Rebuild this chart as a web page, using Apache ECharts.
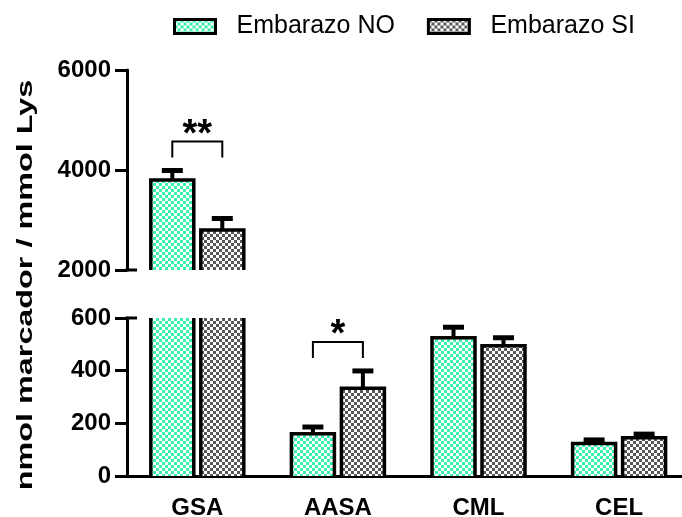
<!DOCTYPE html>
<html>
<head>
<meta charset="utf-8">
<script src="https://cdn.jsdelivr.net/npm/echarts@6/dist/echarts.min.js"></script>
<style>
  html, body { margin: 0; padding: 0; background: #fff; }
  #chart { width: 682px; height: 517px; }
</style>
</head>
<body>
<div id="chart"></div>
<script>
// Marker levels per group (mean and SEM), nmol marcador / mmol Lys
const categories = ['GSA', 'AASA', 'CML', 'CEL'];
const seriesNames = ['Embarazo NO', 'Embarazo SI'];
const embarazoNO = [3800, 160, 525, 123];
const errorNO = [190, 26, 40, 14];
const embarazoSI = [2800, 333, 495, 145];
const errorSI = [230, 66, 30, 14];

// Broken value axis: upper and lower segments
const upperRange = [2000, 6000];
const upperInterval = 2000;
const lowerRange = [0, 600];
const lowerInterval = 200;

// Significance marks between groups
const sigCategories = ['GSA', 'AASA'];
const sigLabels = ['**', '*'];

const FONT = '"Liberation Sans", Arial, sans-serif';
const BAR_W = 43;       // bar width between stroke centres
const BAR_OFF = 25;     // half distance between the two bars of a group
const CAP_HALF = 10.5;

function checker(color) {
  const c = document.createElement('canvas');
  c.width = 6; c.height = 6;
  const ctx = c.getContext('2d');
  ctx.fillStyle = '#ffffff';
  ctx.fillRect(0, 0, 6, 6);
  ctx.fillStyle = color;
  ctx.fillRect(0, 0, 3, 3);
  ctx.fillRect(3, 3, 3, 3);
  return { image: c, repeat: 'repeat' };
}
const fillNO = checker('#3cefaa');
const fillSI = checker('#585858');

function toData(values, errors) {
  return values.map((v, i) => [i, v, errors[i]]);
}

function barRenderer(side, fill) {
  return function (params, api) {
    const cat = api.value(0), val = api.value(1), err = api.value(2);
    const cs = params.coordSys;
    const cx = api.coord([cat, 0])[0] + side * BAR_OFF;
    const yTop = api.coord([cat, val])[1];
    const yBase = api.coord([cat, 0])[1];
    const top = Math.max(yTop, cs.y);
    const bottom = Math.min(yBase, cs.y + cs.height);
    if (bottom <= top) return;
    const x0 = cx - BAR_W / 2, x1 = cx + BAR_W / 2;
    const children = [{
      type: 'rect',
      shape: { x: x0, y: top, width: BAR_W, height: bottom - top },
      style: { fill: fill }
    }];
    const line = { stroke: '#000', lineWidth: 3.5, fill: null, lineJoin: 'miter', lineCap: 'butt' };
    const topVisible = yTop >= cs.y;
    if (topVisible) {
      const yErr = api.coord([cat, val + err])[1];
      children.push({ type: 'line', shape: { x1: cx, y1: yTop, x2: cx, y2: yErr }, style: { stroke: '#000', lineWidth: 4 } });
      children.push({ type: 'line', shape: { x1: cx - CAP_HALF, y1: yErr, x2: cx + CAP_HALF, y2: yErr }, style: { stroke: '#000', lineWidth: 5 } });
      children.push({ type: 'polyline', shape: { points: [[x0, bottom], [x0, top], [x1, top], [x1, bottom]] }, style: line });
    } else {
      children.push({ type: 'line', shape: { x1: x0, y1: top, x2: x0, y2: bottom }, style: line });
      children.push({ type: 'line', shape: { x1: x1, y1: top, x2: x1, y2: bottom }, style: line });
    }
    return { type: 'group', children: children };
  };
}

// Short inward tick on the value axis where the axis is broken
function breakRenderer(params, api) {
  const cs = params.coordSys;
  const y = api.coord([0, api.value(1)])[1];
  return {
    type: 'line',
    shape: { x1: cs.x - 1.5, y1: y, x2: cs.x + 10, y2: y },
    style: { stroke: '#000', lineWidth: 3 }
  };
}

// Bracket data: category index and highest error-bar end of the pair
const sigData = sigCategories.map((c, k) => {
  const i = categories.indexOf(c);
  const peak = Math.max(embarazoNO[i] + errorNO[i], embarazoSI[i] + errorSI[i]);
  return { i: i, peak: peak, label: sigLabels[k] };
});
const sigUpper = sigData.filter(d => d.peak > lowerRange[1]);
const sigLower = sigData.filter(d => d.peak <= lowerRange[1]);

function bracketRenderer(list) {
  return function (params, api) {
    const cat = api.value(0), peak = api.value(1);
    const cx = api.coord([cat, 0])[0];
    const yPeak = api.coord([cat, peak])[1];
    const legBottom = yPeak - 13;
    const barTop = legBottom - 16;
    const xl = cx - BAR_OFF, xr = cx + BAR_OFF;
    return {
      type: 'group',
      children: [
        { type: 'polyline', shape: { points: [[xl, legBottom], [xl, barTop], [xr, barTop], [xr, legBottom]] },
          style: { stroke: '#000', lineWidth: 2, fill: null } },
        { type: 'text', style: { text: list[params.dataIndex].label, x: cx, y: barTop - 6,
            font: 'bold 38px ' + FONT, fill: '#000', align: 'center', verticalAlign: 'middle' } }
      ]
    };
  };
}

const axisLabelStyle = { color: '#000', fontFamily: FONT, fontWeight: 'bold', fontSize: 24 };
const blackLine = { color: '#000', width: 3 };

const gridLeft = 127;
const gridWidth = 562.4;

const option = {
  animation: false,
  backgroundColor: '#fff',
  legend: {
    left: 173,
    top: 14,
    padding: 0,
    itemWidth: 41,
    itemHeight: 14,
    itemGap: 32,
    icon: 'rect',
    textStyle: { color: '#000', fontFamily: FONT, fontSize: 25, padding: [0, 0, 0, 16] },
    data: [
      { name: seriesNames[0], itemStyle: { color: fillNO, borderColor: '#000', borderWidth: 3 } },
      { name: seriesNames[1], itemStyle: { color: fillSI, borderColor: '#000', borderWidth: 3 } }
    ]
  },
  grid: [
    { left: gridLeft, top: 70, width: gridWidth, height: 200, outerBoundsMode: 'none' },
    { left: gridLeft, top: 318, width: gridWidth, height: 158, outerBoundsMode: 'none' }
  ],
  xAxis: [
    { type: 'category', gridIndex: 0, data: categories, show: false },
    {
      type: 'category', gridIndex: 1, data: categories,
      axisLine: { lineStyle: blackLine },
      axisTick: { alignWithLabel: true, length: 10, lineStyle: blackLine },
      axisLabel: Object.assign({ margin: 20 }, axisLabelStyle)
    }
  ],
  yAxis: [
    {
      type: 'value', gridIndex: 0, min: upperRange[0], max: upperRange[1], interval: upperInterval,
      axisLine: { show: true, lineStyle: blackLine },
      axisTick: { show: true, length: 12, lineStyle: blackLine },
      axisLabel: Object.assign({ margin: 16, formatter: v => String(v) }, axisLabelStyle),
      splitLine: { show: false }
    },
    {
      type: 'value', gridIndex: 1, min: lowerRange[0], max: lowerRange[1], interval: lowerInterval,
      axisLine: { show: true, lineStyle: blackLine },
      axisTick: { show: true, length: 12, lineStyle: blackLine },
      axisLabel: Object.assign({ margin: 16, formatter: v => String(v) }, axisLabelStyle),
      splitLine: { show: false }
    }
  ],
  series: [
    { type: 'custom', name: seriesNames[0], xAxisIndex: 0, yAxisIndex: 0, itemStyle: { color: fillNO },
      renderItem: barRenderer(-1, fillNO), data: toData(embarazoNO, errorNO), encode: { x: 0, y: 1 } },
    { type: 'custom', name: seriesNames[1], xAxisIndex: 0, yAxisIndex: 0, itemStyle: { color: fillSI },
      renderItem: barRenderer(1, fillSI), data: toData(embarazoSI, errorSI), encode: { x: 0, y: 1 } },
    { type: 'custom', name: seriesNames[0], xAxisIndex: 1, yAxisIndex: 1, itemStyle: { color: fillNO },
      renderItem: barRenderer(-1, fillNO), data: toData(embarazoNO, errorNO), encode: { x: 0, y: 1 } },
    { type: 'custom', name: seriesNames[1], xAxisIndex: 1, yAxisIndex: 1, itemStyle: { color: fillSI },
      renderItem: barRenderer(1, fillSI), data: toData(embarazoSI, errorSI), encode: { x: 0, y: 1 } },
    { type: 'custom', xAxisIndex: 0, yAxisIndex: 0, renderItem: bracketRenderer(sigUpper),
      data: sigUpper.map(d => [d.i, d.peak]), encode: { x: 0, y: 1 } },
    { type: 'custom', xAxisIndex: 1, yAxisIndex: 1, renderItem: bracketRenderer(sigLower),
      data: sigLower.map(d => [d.i, d.peak]), encode: { x: 0, y: 1 } },
    { type: 'custom', xAxisIndex: 0, yAxisIndex: 0, renderItem: breakRenderer,
      data: [[0, upperRange[0]]], encode: { x: 0, y: 1 } },
    { type: 'custom', xAxisIndex: 1, yAxisIndex: 1, renderItem: breakRenderer,
      data: [[0, lowerRange[1]]], encode: { x: 0, y: 1 } }
  ],
  graphic: [
    {
      type: 'text',
      x: 26, y: 285,
      rotation: Math.PI / 2,
      scaleX: 1.47,
      style: {
        text: 'nmol marcador / mmol Lys',
        font: 'bold 22px ' + FONT,
        fill: '#000',
        align: 'center',
        verticalAlign: 'middle'
      }
    }
  ]
};

const chart = echarts.init(document.getElementById('chart'), null, { renderer: 'canvas' });
chart.setOption(option);
</script>
</body>
</html>
